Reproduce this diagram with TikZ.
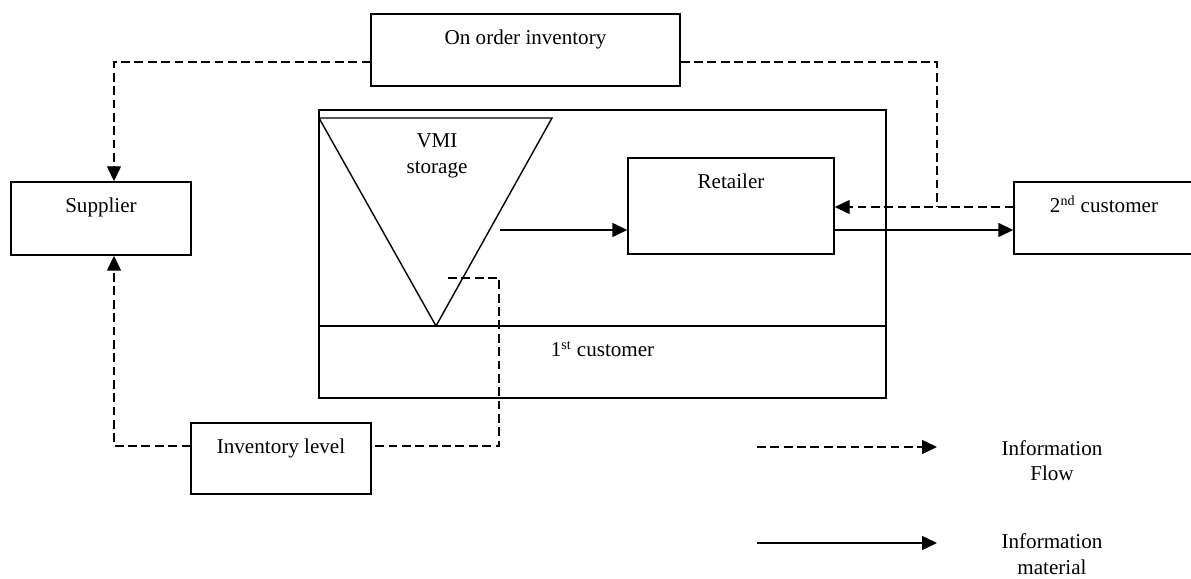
\documentclass[tikz,border=0pt]{standalone}
\usepackage{fontspec}
\setmainfont{Liberation Serif}
\usetikzlibrary{arrows.meta,calc}

\begin{document}
\begin{tikzpicture}[
  font=\fontsize{12}{14.5}\selectfont,
  line width=.8pt,
  blk/.style={draw, inner sep=0pt, minimum width=3.6cm, text height=.62cm, text depth=#1},
  blk/.default=.82cm,
  info/.style={dash pattern=on 5pt off 2.6pt},
  tip/.style={-{Triangle[length=.3cm,width=.28cm]}}
]
\useasboundingbox (0,0) rectangle (23.82,11.58);
\clip (0,0) rectangle (23.82,11.58);

% boxes
\node[blk, minimum width=6.18cm] (ooi) at (10.51,10.58) {On order inventory};
\node[blk=.84cm] (sup) at (2.02,7.21) {Supplier};
\node[draw, inner sep=0pt, minimum width=11.34cm, minimum height=5.76cm] (vmi) at (12.05,6.50) {};
\node[blk, minimum width=11.34cm] (cus1) at (12.05,4.34) {1\textsuperscript{st} customer};
\node[blk=1.30cm, minimum width=4.12cm] (ret) at (14.62,7.46) {Retailer};
\node[blk] (cus2) at (22.08,7.22) {2\textsuperscript{nd} customer};
\node[blk=.80cm] (inv) at (5.62,2.41) {Inventory level};

% storage triangle
\coordinate (stkL) at (6.38,9.22);
\coordinate (stkR) at (11.04,9.22);
\coordinate (stkB) at (8.72,5.06);
\draw (stkL) -- (stkR) -- (stkB) -- cycle;
\node[align=center] (stk) at (8.74,8.46) {VMI\\storage};

% bends
\coordinate (tl) at (2.28,10.34);
\coordinate (tr) at (18.74,10.34);
\coordinate (rt) at (18.74,7.44);
\coordinate (bl) at (2.28,2.66);
\coordinate (br) at (9.98,2.66);
\coordinate (stkTap) at (8.96,6.02);
\coordinate (stkCorner) at (9.98,6.02);
\coordinate (shipOut) at (10.00,6.98);

% information flow
\draw[info,tip] (ooi.west |- tl) -- (tl) -- (sup.north -| tl);
\draw[info] (ooi.east |- tr) -- (tr) -- (rt);
\draw[info,tip] (cus2.west |- rt) -- (ret.east |- rt);
\draw[info] (stkTap) -- (stkCorner) -- (br) -- (inv.east |- br);
\draw[info,tip] (inv.west |- bl) -- (bl) -- (sup.south -| bl);

% material flow
\draw[tip] (shipOut) -- (ret.west |- shipOut);
\draw[tip] (ret.east |- shipOut) -- (cus2.west |- shipOut);

% key
\coordinate (keyA) at (15.14,2.64);
\coordinate (keyB) at (18.74,2.64);
\coordinate (keyC) at (15.14,0.72);
\coordinate (keyD) at (18.74,0.72);
\draw[info,tip] (keyA) -- (keyB);
\draw[tip] (keyC) -- (keyD);
\node[align=center] (keyInfo) at (21.04,2.37) {Information\\Flow};
\node[align=center] (keyMat) at (21.04,0.50) {Information\\material};

\end{tikzpicture}
\end{document}
